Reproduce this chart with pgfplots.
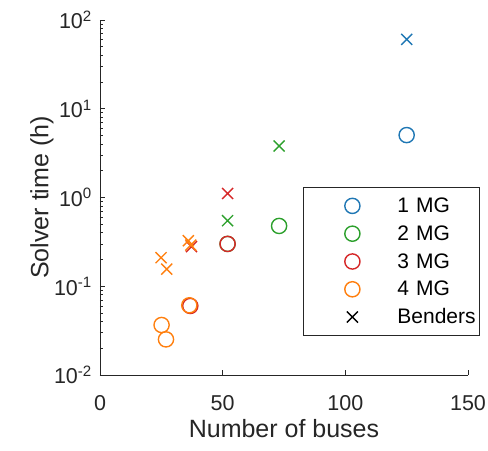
\documentclass[border=0pt]{standalone}
\usepackage{fontspec}
\setmainfont{Liberation Sans}
\usepackage{pgfplots}
\pgfplotsset{compat=1.18}
\definecolor{tabblue}{RGB}{31,119,180}
\definecolor{tabgreen}{RGB}{44,160,44}
\definecolor{tabred}{RGB}{214,39,40}
\definecolor{taborange}{RGB}{255,127,14}
\definecolor{axgray}{RGB}{38,38,38}
\begin{document}
\begin{tikzpicture}
\useasboundingbox (0,0) rectangle (488bp,451bp);
\begin{axis}[
  at={(100bp,76bp)}, anchor=south west,
  scale only axis, width=368bp, height=355bp,
  xmin=0, xmax=150, ymode=log, ymin=1e-2, ymax=1e2,
  axis lines*=left,
  axis line style={draw=axgray, line width=0.8bp},
  tick align=inside,
  major tick length=5bp, minor tick length=3bp,
  every tick/.style={axgray, line width=0.8bp},
  xtick={0,50,100,150}, xticklabels={0,50,100,150},
  ytick={1e-2,1e-1,1,10,100},
  yticklabels={10\textsuperscript{-2},10\textsuperscript{-1},10\textsuperscript{0},10\textsuperscript{1},10\textsuperscript{2}},
  minor ytick={0.02,0.03,0.04,0.05,0.06,0.07,0.08,0.09,0.2,0.3,0.4,0.5,0.6,0.7,0.8,0.9,2,3,4,5,6,7,8,9,20,30,40,50,60,70,80,90},
  ticklabel style={font=\fontsize{21.5bp}{24bp}\selectfont, text=axgray, inner sep=0pt},
  xticklabel style={anchor=base, yshift=-35bp},
  yticklabel style={anchor=east, xshift=-8bp},
  xlabel={Number of buses}, ylabel={Solver time (h)},
  every axis x label/.style={at={(axis description cs:0.5,-0.152)}, anchor=center,
    font=\fontsize{25bp}{28bp}\selectfont, text=axgray},
  every axis y label/.style={at={(axis description cs:-0.1576,0.5)}, rotate=90, anchor=center,
    font=\fontsize{25bp}{28bp}\selectfont, text=axgray},
  legend image code/.code={\path[draw=none,fill=none] (0bp,-9bp) rectangle (94bp,9bp); \draw[#1] plot coordinates {(49bp,0bp)};},
  legend style={at={(0.5516,0.5296)}, anchor=north west, draw=axgray, line width=0.8bp,
    font=\fontsize{21bp}{24bp}\selectfont, inner xsep=0pt, inner ysep=9.5bp, row sep=9.8bp,
    nodes={inner sep=0pt, text width=82bp, align=left}},
  legend cell align=left,
  clip=false,
]
% circles (one per MG count) and crosses (Benders)
\addplot[only marks, mark=o, tabblue, mark size=7.6bp, line width=1.4bp, forget plot] coordinates {(125,5.05)};
\addplot[only marks, mark=x, tabblue, mark size=7.8bp, line width=1.4bp, forget plot] coordinates {(125,60.5)};
\addplot[only marks, mark=o, tabgreen, mark size=7.6bp, line width=1.4bp, forget plot] coordinates {(73,0.478) (52,0.30)};
\addplot[only marks, mark=x, tabgreen, mark size=7.8bp, line width=1.4bp, forget plot] coordinates {(73,3.8) (52,0.548)};
\addplot[only marks, mark=o, tabred, mark size=7.6bp, line width=1.4bp, forget plot] coordinates {(52,0.30) (36.8,0.060)};
\addplot[only marks, mark=x, tabred, mark size=7.8bp, line width=1.4bp, forget plot] coordinates {(52,1.11) (37.3,0.28)};
\addplot[only marks, mark=o, taborange, mark size=7.6bp, line width=1.4bp, forget plot] coordinates {(36.4,0.061) (25.1,0.0366) (26.9,0.0252)};
\addplot[only marks, mark=x, taborange, mark size=7.8bp, line width=1.4bp, forget plot] coordinates {(24.9,0.21) (27.2,0.156) (36,0.326) (37,0.29)};
\addlegendimage{tabblue, mark=o, mark size=7.6bp, line width=1.4bp}
\addlegendentry{1 MG}
\addlegendimage{tabgreen, mark=o, mark size=7.6bp, line width=1.4bp}
\addlegendentry{2 MG}
\addlegendimage{tabred, mark=o, mark size=7.6bp, line width=1.4bp}
\addlegendentry{3 MG}
\addlegendimage{taborange, mark=o, mark size=7.6bp, line width=1.4bp}
\addlegendentry{4 MG}
\addlegendimage{black, mark=x, mark size=7.8bp, line width=1.4bp}
\addlegendentry{Benders}
\end{axis}
\end{tikzpicture}
\end{document}
